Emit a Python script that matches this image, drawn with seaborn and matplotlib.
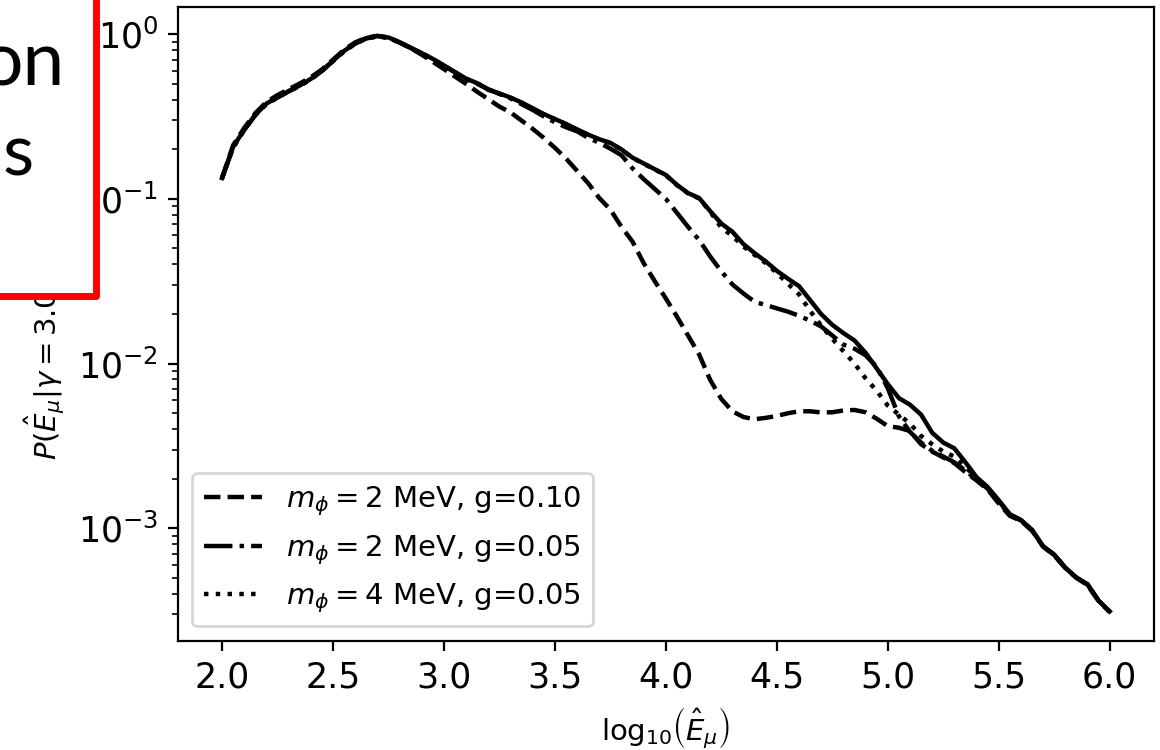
import numpy as np
import pandas as pd
import matplotlib
matplotlib.use("Agg")
import matplotlib.pyplot as plt
import seaborn as sns
from matplotlib.patches import Rectangle
from matplotlib.ticker import MultipleLocator

# log10(E_mu) grid, 2.0 .. 6.0 in steps of 0.05
log_e = np.round(np.arange(2.0, 6.0001, 0.05), 2)

# log10 of P
log_p_base = [
    -0.874, -0.685, -0.580, -0.490, -0.422, -0.383, -0.346, -0.312, -0.272, -0.222,
    -0.162, -0.102, -0.056, -0.024, -0.012, -0.020, -0.049, -0.082, -0.115, -0.150,
    -0.190, -0.230, -0.270, -0.298, -0.335, -0.360, -0.385, -0.415, -0.450, -0.485,
    -0.515, -0.545, -0.578, -0.610, -0.638, -0.660, -0.700, -0.750, -0.785, -0.820,
    -0.855, -0.915, -0.965, -0.995, -1.075, -1.150, -1.200, -1.275, -1.330, -1.380,
    -1.437, -1.485, -1.530, -1.615, -1.700, -1.765, -1.815, -1.860, -1.935, -2.030,
    -2.125, -2.210, -2.250, -2.310, -2.420, -2.480, -2.515, -2.600, -2.690, -2.750,
    -2.830, -2.915, -2.950, -3.010, -3.110, -3.160, -3.240, -3.300, -3.340, -3.440,
    -3.505,
]

log_p_m2_g010 = [
    -0.874, -0.675, -0.570, -0.480, -0.412, -0.370, -0.335, -0.300, -0.262, -0.215,
    -0.155, -0.095, -0.050, -0.022, -0.010, -0.020, -0.050, -0.085, -0.125, -0.168,
    -0.212, -0.258, -0.302, -0.350, -0.395, -0.440, -0.475, -0.525, -0.575, -0.630,
    -0.690, -0.755, -0.830, -0.905, -0.995, -1.065, -1.170, -1.260, -1.390, -1.500,
    -1.605, -1.715, -1.830, -1.945, -2.100, -2.215, -2.290, -2.325, -2.338, -2.330,
    -2.318, -2.302, -2.290, -2.290, -2.297, -2.296, -2.285, -2.282, -2.296, -2.335,
    -2.380, -2.390, -2.410, -2.490, -2.535, -2.570, -2.605, -2.660, -2.710, -2.765,
    -2.850, -2.925, -2.955, -3.015, -3.112, -3.165, -3.242, -3.302, -3.345, -3.442,
    -3.510,
]

log_p_m2_g005 = [
    -0.876, -0.688, -0.582, -0.492, -0.424, -0.385, -0.348, -0.314, -0.274, -0.224,
    -0.164, -0.104, -0.058, -0.026, -0.014, -0.022, -0.051, -0.084, -0.117, -0.152,
    -0.192, -0.232, -0.272, -0.300, -0.337, -0.362, -0.390, -0.425, -0.460, -0.500,
    -0.535, -0.565, -0.590, -0.630, -0.660, -0.695, -0.735, -0.815, -0.880, -0.940,
    -1.000, -1.085, -1.170, -1.250, -1.350, -1.440, -1.520, -1.575, -1.625, -1.645,
    -1.665, -1.685, -1.710, -1.740, -1.775, -1.830, -1.885, -1.910, -1.950, -2.020,
    -2.150, -2.320, -2.415, -2.480, -2.530, -2.565, -2.600, -2.650, -2.705, -2.760,
    -2.840, -2.920, -2.952, -3.012, -3.110, -3.162, -3.240, -3.300, -3.342, -3.440,
    -3.507,
]

log_p_m4_g005 = [
    -0.876, -0.688, -0.582, -0.492, -0.424, -0.385, -0.348, -0.314, -0.274, -0.224,
    -0.164, -0.104, -0.058, -0.026, -0.014, -0.022, -0.051, -0.084, -0.117, -0.152,
    -0.192, -0.232, -0.272, -0.300, -0.337, -0.362, -0.387, -0.417, -0.452, -0.487,
    -0.517, -0.547, -0.580, -0.612, -0.640, -0.662, -0.702, -0.752, -0.787, -0.822,
    -0.857, -0.917, -0.967, -0.998, -1.078, -1.175, -1.225, -1.290, -1.340, -1.390,
    -1.450, -1.515, -1.580, -1.680, -1.770, -1.850, -1.925, -2.000, -2.090, -2.165,
    -2.255, -2.310, -2.365, -2.440, -2.490, -2.535, -2.565, -2.625, -2.700, -2.755,
    -2.835, -2.918, -2.952, -3.012, -3.110, -3.162, -3.240, -3.300, -3.342, -3.440,
    -3.507,
]

labels = [
    r"$m_\phi = 2$ MeV, g=0.10",
    r"$m_\phi = 2$ MeV, g=0.05",
    r"$m_\phi = 4$ MeV, g=0.05",
]
styles = ["--", "-.", ":"]

# Function to build a dataframe for one curve
def make_frame(values):
    '''para: log10 values of the curve
    return: dataframe with energy and probability'''
    return pd.DataFrame({"x": log_e, "p": 10.0 ** np.asarray(values)})


fig = plt.figure(figsize=(5.8, 3.75), dpi=200)
ax = fig.add_axes([0.1531, 0.1453, 0.8418, 0.8454])

sns.lineplot(data=make_frame(log_p_base), x="x", y="p", ax=ax,
             color="k", linewidth=1.6, linestyle="-")
for vals, lab, ls in zip([log_p_m2_g010, log_p_m2_g005, log_p_m4_g005], labels, styles):
    sns.lineplot(data=make_frame(vals), x="x", y="p", ax=ax,
                 color="k", linewidth=1.6, linestyle=ls, label=lab)

ax.set_yscale("log")
ax.xaxis.set_major_locator(MultipleLocator(0.5))
ax.tick_params(axis="both", which="major", labelsize=12.5)
ax.set_xlabel(r"$\log_{10}\!\left(\hat{E}_\mu\right)$", fontsize=10.5)
ax.set_ylabel(r"$P(\hat{E}_\mu|\gamma=3.0, m_\phi, g)$", fontsize=10.5)
ax.legend(loc="lower left", fontsize=10.5)

# slide overlay covering the top left corner
px_w, px_h = 1160.0, 750.0
box = Rectangle((-20 / px_w, 1 - 296 / px_h), (96 + 20) / px_w, (296 + 20) / px_h,
                transform=fig.transFigure, facecolor="white", edgecolor="#ff0000",
                linewidth=2.5, joinstyle="round", zorder=10)
fig.add_artist(box)
fig.text(65 / px_w, 1 - 86 / px_h, "on", family="Lato", fontsize=27,
         ha="right", va="baseline", zorder=11)
fig.text(34 / px_w, 1 - 176 / px_h, "s", family="Lato", fontsize=26,
         ha="right", va="baseline", zorder=11)

fig.savefig("out.png", dpi=200)
